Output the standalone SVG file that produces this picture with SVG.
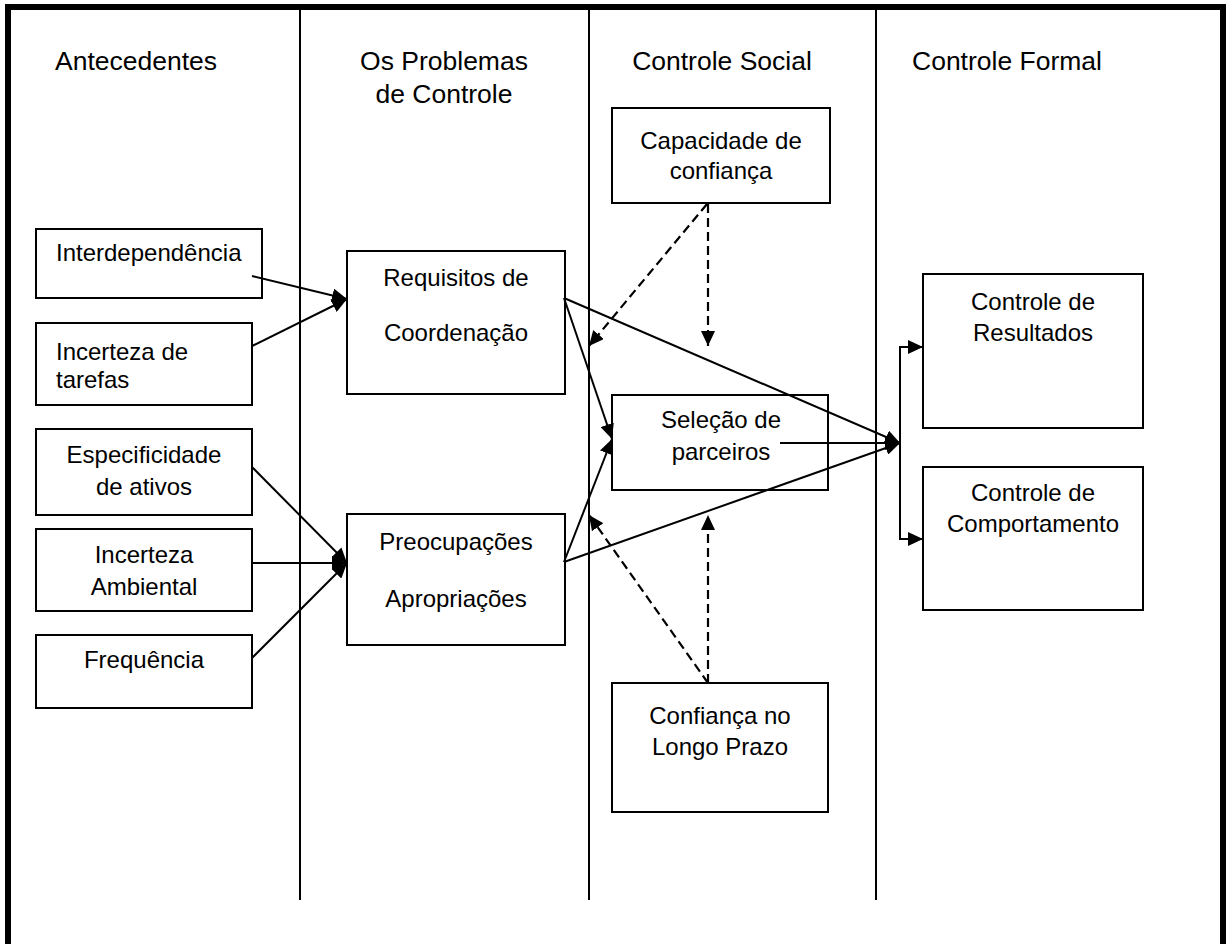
<svg xmlns="http://www.w3.org/2000/svg" width="1227" height="944" viewBox="0 0 1227 944">
<style>
  .box { fill: #fff; stroke: #000; stroke-width: 2; }
  .col { stroke: #000; stroke-width: 2; }
  .hdr { font-family: "Liberation Sans", Arial, sans-serif; font-size: 26.5px; fill: #000; }
  .txt { font-family: "Liberation Sans", Arial, sans-serif; font-size: 24px; fill: #000; }
  .c { text-anchor: middle; }
  .ln { fill: none; stroke: #000; stroke-width: 2; }
  .dash { fill: none; stroke: #000; stroke-width: 2.2; stroke-dasharray: 9 5; }
</style>
<defs>
  <marker id="ah" viewBox="0 0 15 14" refX="15" refY="7" markerWidth="15" markerHeight="14" markerUnits="userSpaceOnUse" orient="auto">
    <path d="M0,0 L15,7 L0,14 Z" fill="#000"/>
  </marker>
</defs>
<rect x="0" y="0" width="1227" height="944" fill="#fff"/>
<rect x="8" y="7" width="1215" height="960" fill="none" stroke="#000" stroke-width="6"/>
<g id="columns">
  <line class="col" x1="300" y1="10" x2="300" y2="900"/>
  <line class="col" x1="589" y1="10" x2="589" y2="900"/>
  <line class="col" x1="876" y1="10" x2="876" y2="900"/>
</g>
<g id="headers">
  <text class="hdr" x="55" y="70">Antecedentes</text>
  <text class="hdr c" x="444" y="70">Os Problemas</text>
  <text class="hdr c" x="444" y="103">de Controle</text>
  <text class="hdr c" x="722" y="70">Controle Social</text>
  <text class="hdr" x="912" y="70">Controle Formal</text>
</g>
<g id="n-interdependencia">
  <rect class="box" x="36" y="229" width="226" height="69"/>
  <text class="txt" x="56" y="261">Interdependência</text>
</g>
<g id="n-incerteza-tarefas">
  <rect class="box" x="36" y="323" width="216" height="82"/>
  <text class="txt" x="56" y="360">Incerteza de</text>
  <text class="txt" x="56" y="388">tarefas</text>
</g>
<g id="n-especificidade">
  <rect class="box" x="36" y="429" width="216" height="86"/>
  <text class="txt c" x="144" y="463">Especificidade</text>
  <text class="txt c" x="144" y="495">de ativos</text>
</g>
<g id="n-incerteza-ambiental">
  <rect class="box" x="36" y="529" width="216" height="82"/>
  <text class="txt c" x="144" y="563">Incerteza</text>
  <text class="txt c" x="144" y="595">Ambiental</text>
</g>
<g id="n-frequencia">
  <rect class="box" x="36" y="635" width="216" height="73"/>
  <text class="txt c" x="144" y="668">Frequência</text>
</g>
<g id="n-requisitos">
  <rect class="box" x="347" y="251" width="218" height="143"/>
  <text class="txt c" x="456" y="286">Requisitos de</text>
  <text class="txt c" x="456" y="341">Coordenação</text>
</g>
<g id="n-preocupacoes">
  <rect class="box" x="347" y="514" width="218" height="131"/>
  <text class="txt c" x="456" y="550">Preocupações</text>
  <text class="txt c" x="456" y="607">Apropriações</text>
</g>
<g id="n-capacidade">
  <rect class="box" x="612" y="108" width="218" height="95"/>
  <text class="txt c" x="721" y="149">Capacidade de</text>
  <text class="txt c" x="721" y="179">confiança</text>
</g>
<g id="n-selecao">
  <rect class="box" x="612" y="395" width="216" height="95"/>
  <text class="txt c" x="721" y="428">Seleção de</text>
  <text class="txt c" x="721" y="460">parceiros</text>
</g>
<g id="n-confianca-longo">
  <rect class="box" x="612" y="683" width="216" height="129"/>
  <text class="txt c" x="720" y="724">Confiança no</text>
  <text class="txt c" x="720" y="755">Longo Prazo</text>
</g>
<g id="n-resultados">
  <rect class="box" x="923" y="274" width="220" height="154"/>
  <text class="txt c" x="1033" y="310">Controle de</text>
  <text class="txt c" x="1033" y="341">Resultados</text>
</g>
<g id="n-comportamento">
  <rect class="box" x="923" y="467" width="220" height="143"/>
  <text class="txt c" x="1033" y="501">Controle de</text>
  <text class="txt c" x="1033" y="532">Comportamento</text>
</g>
<g id="connectors">
  <line class="ln" x1="252" y1="276" x2="347" y2="299" marker-end="url(#ah)"/>
  <line class="ln" x1="252" y1="346" x2="347" y2="299" marker-end="url(#ah)"/>
  <line class="ln" x1="252" y1="467" x2="347" y2="563" marker-end="url(#ah)"/>
  <line class="ln" x1="252" y1="563" x2="347" y2="563" marker-end="url(#ah)"/>
  <line class="ln" x1="252" y1="658" x2="347" y2="563" marker-end="url(#ah)"/>
  <line class="ln" x1="564" y1="298" x2="612" y2="439" marker-end="url(#ah)"/>
  <line class="ln" x1="564" y1="562" x2="612" y2="439" marker-end="url(#ah)"/>
  <line class="ln" x1="564" y1="298" x2="900" y2="443" marker-end="url(#ah)"/>
  <line class="ln" x1="564" y1="562" x2="900" y2="443" marker-end="url(#ah)"/>
  <line class="ln" x1="780" y1="443" x2="900" y2="443" marker-end="url(#ah)"/>
  <path class="ln" d="M900,443 V347 H923" marker-end="url(#ah)"/>
  <path class="ln" d="M900,443 V539 H923" marker-end="url(#ah)"/>
  <line class="dash" x1="707" y1="204" x2="589" y2="346" marker-end="url(#ah)"/>
  <line class="dash" x1="708" y1="204" x2="708" y2="346" marker-end="url(#ah)"/>
  <line class="dash" x1="708" y1="683" x2="708" y2="515" marker-end="url(#ah)"/>
  <line class="dash" x1="708" y1="683" x2="589" y2="515" marker-end="url(#ah)"/>
</g>
</svg>
